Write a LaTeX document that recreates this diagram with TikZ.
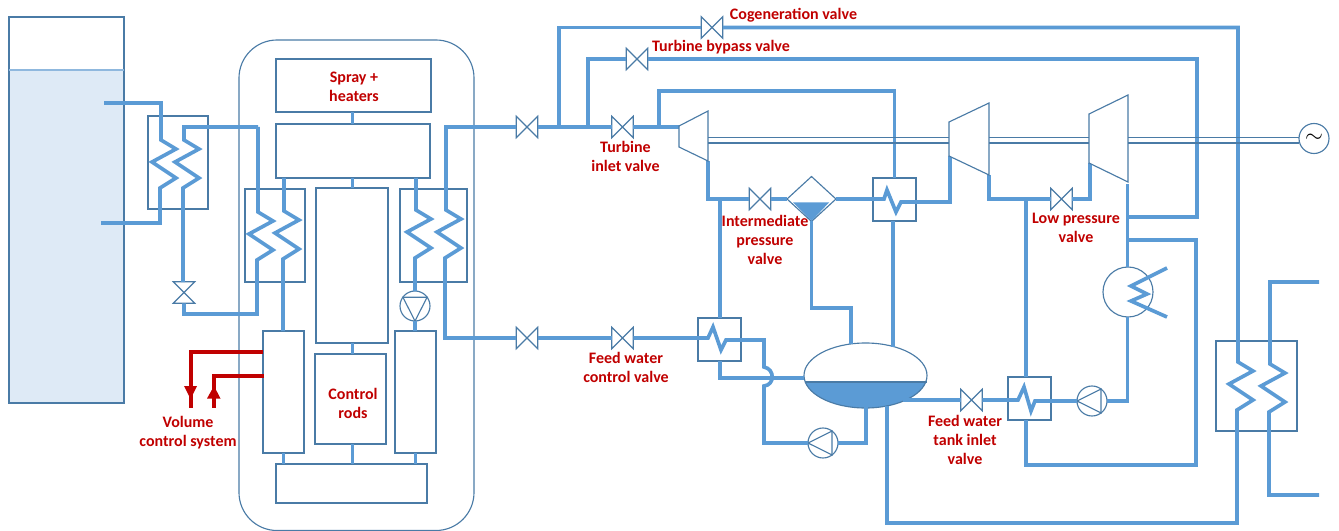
\documentclass[tikz,border=0pt]{standalone}
\usepackage{fontspec}
\setmainfont{Carlito}
\usetikzlibrary{fit,shapes.geometric}
\definecolor{pipeblue}{HTML}{5B9BD5}
\definecolor{eqblue}{HTML}{4A7BA6}
\definecolor{tankfill}{HTML}{DEEAF6}
\definecolor{levelblue}{HTML}{8FB8DE}
\definecolor{lbl}{HTML}{C00000}
\tikzset{
  pipe/.style={draw=pipeblue,line width=2.75pt,line join=miter},
  redpipe/.style={draw=lbl,line width=2.75pt,line join=miter},
  eq/.style={draw=eqblue,line width=0.85pt},
  eqbox/.style={eq,rectangle,inner sep=0pt,outer sep=0pt},
  valvenode/.style={rectangle,inner sep=0pt,outer sep=0pt,minimum width=16.2pt,minimum height=16.2pt},
  pumpnode/.style={eq,circle,inner sep=0pt,outer sep=0pt,minimum size=22.5pt},
  txt/.style={text=lbl,font=\fontsize{12}{14.25}\selectfont\bfseries,align=center,inner sep=0pt},
}
\newcommand{\hvalve}[3]{\node[valvenode] (#1) at (#2,#3) {};
  \draw[eq] (#1.north west) -- (#1.south east) -- (#1.north east) -- (#1.south west) -- cycle;}
\newcommand{\vvalve}[3]{\node[valvenode] (#1) at (#2,#3) {};
  \draw[eq] (#1.north west) -- (#1.north east) -- (#1.south west) -- (#1.south east) -- cycle;}
\newcommand{\eqrect}[5]{\node[eqbox,fit={(#2,#3)(#4,#5)}] (#1) {};}
\def\coil{-- ++(15,9) -- ++(-24,13) -- ++(24,16) -- ++(-16,10)}
\begin{document}
\begin{tikzpicture}[x=0.75pt,y=-0.75pt]
\useasboundingbox (0,0) rectangle (1339,531);

% --- tank
\fill[tankfill] (9,70) rectangle (124,403);
\eqrect{tank}{9}{17}{124}{403}
\coordinate (lvlL) at (9,70);
\coordinate (lvlR) at (124,70);
\draw[draw=levelblue,line width=1pt] (lvlL) -- (lvlR);

% --- containment vessel and internals
\node[eqbox,rounded corners=28.5pt,fit={(239,40)(474,530.5)}] (vessel) {};
\eqrect{spray}{276}{59}{431}{112}
\eqrect{upper}{276}{124}{430}{178}
\eqrect{core}{316}{188}{388}{343}
\eqrect{rods}{315}{354}{386}{444}
\eqrect{lower}{276}{464}{427}{503}
\eqrect{lcol}{263}{331}{304}{453}
\eqrect{rcol}{395}{331}{436}{453}

% --- heat exchanger boxes and heaters
\eqrect{hxa}{148}{116}{208}{209}
\eqrect{hxb}{245}{189}{305}{282}
\eqrect{hxc}{400}{189}{467}{282}
\eqrect{hxd}{1216}{341}{1297}{431}
\eqrect{fwa}{698}{318}{741}{361}
\eqrect{fwb}{873}{178}{916}{221}
\eqrect{fwc}{1008}{377}{1051}{420}

% --- valves
\vvalve{vhx}{184}{292.5}
\hvalve{vmain}{527}{127}
\hvalve{vfeed}{527}{338}
\hvalve{vinlet}{622.5}{127}
\hvalve{vfc}{622.5}{338}
\hvalve{vcog}{712}{27.5}
\hvalve{vby}{637}{59}
\hvalve{vip}{760}{199}
\hvalve{vlp}{1061.5}{199}
\hvalve{vtank}{971.5}{400}

% --- pumps, condenser, generator
\node[pumpnode] (pumpa) at (415,306) {};
\draw[eq] (pumpa.144) -- (pumpa.36) -- (pumpa.270) -- cycle;
\node[pumpnode] (pumpb) at (823,443) {};
\draw[eq] (pumpb.180) -- (pumpb.53) -- (pumpb.-53) -- cycle;
\node[pumpnode] (pumpc) at (1092,401) {};
\draw[eq] (pumpc.180) -- (pumpc.53) -- (pumpc.-53) -- cycle;
\node[eq,circle,inner sep=0pt,outer sep=0pt,minimum size=37.5pt] (cond) at (1128,292) {};

% --- separator
\node[eq,diamond,aspect=1.08,inner sep=0pt,outer sep=0pt,minimum width=36.7pt,minimum height=33.7pt] (sep) at (811.5,199) {};
\fill[pipeblue] (793,202.5) -- (829,202.5) -- (811.5,221) -- cycle;

% --- drum
\fill[white] (865.5,375.5) ellipse [x radius=61.5,y radius=32.5];
\begin{scope}
  \clip (800,382) rectangle (930,412);
  \fill[pipeblue] (865.5,375.5) ellipse [x radius=61.5,y radius=32.5];
\end{scope}
\node[eq,ellipse,inner sep=0pt,outer sep=0pt,minimum width=92.25pt,minimum height=48.75pt] (drum) at (865.5,375.5) {};
\coordinate (lineL) at (804.5,382);
\coordinate (lineR) at (926.5,382);
\draw[eq] (lineL) -- (lineR);

% --- turbines
\coordinate (taa) at (679,126);
\coordinate (tab) at (708,111);
\coordinate (tac) at (708,161);
\coordinate (tad) at (679,147);
\coordinate (tba) at (949,122);
\coordinate (tbb) at (989,103);
\coordinate (tbc) at (989,175);
\coordinate (tbd) at (949,156);
\coordinate (tca) at (1089,114);
\coordinate (tcb) at (1128,95);
\coordinate (tcc) at (1128,182);
\coordinate (tcd) at (1089,163);

% --- named junctions
\coordinate (stem) at (352.5,0);
\coordinate (sl) at (284,0);
\coordinate (sr) at (416,0);
\coordinate (jreturn) at (258,127);
\coordinate (jcog) at (559,127);
\coordinate (jby) at (588,127);
\coordinate (jre) at (659,127);
\coordinate (jip) at (720,199);
\coordinate (jlp) at (1026,199);
\coordinate (tcout) at (1127.5,184);
\coordinate (jcon) at (1127.5,217);
\coordinate (jcool) at (1127.5,240);
\coordinate (tankhot) at (104,103);
\coordinate (tankcold) at (101,223);
\coordinate (drumA) at (851,344);
\coordinate (drumB) at (893,346.5);
\coordinate (drumC) at (903,400);
\coordinate (drumD) at (866,407);
\coordinate (drumE) at (887,406);
\coordinate (drumF) at (804.3,378);
\coordinate (fwcN) at (1026,377);
\coordinate (fwcS) at (1026,420);
\coordinate (fwaN) at (720,318);
\coordinate (fwaS) at (720,361);
\coordinate (fwbN) at (894.5,178);
\coordinate (ccA) at (1167,268);
\coordinate (ccB) at (1167,317);
\coordinate (sea) at (1319,282);
\coordinate (seb) at (1319,495);

% --- pipes
\draw[pipe] (spray.south -| stem) -- (upper.north -| stem);
\draw[pipe] (upper.south -| stem) -- (core.north -| stem);
\draw[pipe] (core.south -| stem) -- (rods.north -| stem);
\draw[pipe] (rods.south -| stem) -- (lower.north -| stem);
\draw[pipe] (lcol.south) -- (lower.north -| lcol.south);
\draw[pipe] (rcol.south) -- (lower.north -| rcol.south);

\draw[pipe] (tankhot) -- (161,103) -- (161,140) \coil -- (160,223) -- (tankcold);
\draw[pipe] (jreturn) -- (184,127) -- (184,140) \coil -- (183,188) -- (183,282);
\draw[pipe] (jreturn) -- (258,212) \coil -- (257,314) -- (184,314) -- (vhx.south);
\draw[pipe] (upper.south -| sl) -- (284,211) \coil -- (283,259) -- (283,331);
\draw[pipe] (upper.south -| sr) -- (416,210) \coil -- (415,258) -- (pumpa.north);
\draw[pipe] (pumpa.south) -- (rcol.north -| pumpa.south);
\draw[pipe] (vmain.west) -- (446,127) -- (446,210) \coil -- (445,338) -- (vfeed.west);
\draw[pipe] (vmain.east) -- (vinlet.west);
\draw[pipe] (vinlet.east) -- (taa |- vinlet.east);
\draw[pipe] (jcog) -- (559,27.5) -- (vcog.west);
\draw[pipe] (vcog.east) -- (1238,27.5) -- (1238,362) \coil -- (1237,523) -- (887,523) -- (drumE);
\draw[pipe] (jby) -- (588,59) -- (vby.west);
\draw[pipe] (vby.east) -- (1197,59) -- (1197,217) -- (jcon);
\draw[pipe] (jre) -- (659,91) -- (894.5,91) -- (fwbN);
\draw[pipe] (tac) -- (708,199) -- (vip.west);
\draw[pipe] (vip.east) -- (sep.west);
\draw[pipe] (sep.east) -- (884,199) -- (887,190) -- (896,212) -- (901,202) -- (950,202) -- (950,156);
\draw[pipe] (jip) -- (fwaN);
\draw[pipe] (sep.south) -- (811.5,308) -- (851,308) -- (drumA);
\draw[pipe] (fwb.south -| drumB) -- (drumB);
\draw[pipe] (tbc) -- (989,199) -- (vlp.west);
\draw[pipe] (vlp.east) -- (1090,199) -- (1090,163);
\draw[pipe] (jlp) -- (fwcN);
\draw[pipe] (tcout) -- (jcon);
\draw[pipe] (jcon) -- (cond.north -| jcon);
\draw[pipe] (jcool) -- (1196,240) -- (1196,465) -- (1026,465) -- (fwcS);
\draw[pipe] (ccA) -- (1131,286) -- (1147,294) -- (1131,301) -- (ccB);
\draw[pipe] (cond.south -| jcon) -- (1127.5,401) -- (pumpc.east);
\draw[pipe] (pumpc.west) -- (1035,401) -- (1031,411) -- (1024,387) -- (1018,400) -- (vtank.east);
\draw[pipe] (vtank.west) -- (drumC);
\draw[pipe] (vfc.east) -- (708,338) -- (713,327) -- (721,350) -- (726,340) -- (764,340) -- (764,367)
  .. controls (775,369) and (775,385) .. (764,386) -- (764,443) -- (pumpb.west);
\draw[pipe] (pumpb.east) -- (866,443) -- (drumD);
\draw[pipe] (fwaS) -- (720,378) -- (drumF);
\draw[pipe] (vfeed.east) -- (vfc.west);
\draw[pipe] (sea) -- (1270,282) -- (1270,364) \coil -- (1269,495) -- (seb);

% --- turbine bodies and shafts, over the pipes
\draw[eq,fill=white] (taa) -- (tab) -- (tac) -- (tad) -- cycle;
\draw[eq,fill=white] (tba) -- (tbb) -- (tbc) -- (tbd) -- cycle;
\draw[eq,fill=white] (tca) -- (tcb) -- (tcc) -- (tcd) -- cycle;
\node[pumpnode,fill=white] (gen) at (1314,138.5) {\fontsize{18}{18}\selectfont$\sim$};
\coordinate (yup) at (0,137.8);
\coordinate (ylo) at (0,143);
\draw[eq] (tab |- yup) -- (tba |- yup);
\draw[eq] (tab |- ylo) -- (tba |- ylo);
\draw[eq] (tbb |- yup) -- (tca |- yup);
\draw[eq] (tbb |- ylo) -- (tca |- ylo);
\draw[eq] (tcb |- yup) -- (gen.west |- yup);
\draw[eq] (tcb |- ylo) -- (gen.west |- ylo);

% --- volume control lines
\coordinate (vcOut) at (191,408);
\coordinate (vcIn) at (214,408);
\coordinate (lcolA) at (263,352);
\coordinate (lcolB) at (264,376);
\draw[redpipe] (lcolA) -- (191,352) -- (vcOut);
\draw[redpipe] (lcolB) -- (214,376) -- (vcIn);
\fill[lbl] (184,386) -- (197,386) -- (190.5,399) -- cycle;
\fill[lbl] (207,398.5) -- (220.5,398.5) -- (214,386) -- cycle;

% --- labels
\node[txt] (tspray) at (354,86.5) {Spray +\\heaters};
\node[txt] (trods) at (353,403.5) {Control\\rods};
\node[txt] (tvcs) at (188,432.5) {Volume\\control system};
\node[txt] (tcog) at (793.5,15) {Cogeneration valve};
\node[txt] (tby) at (721,47) {Turbine bypass valve};
\node[txt] (tinlet) at (625.5,156.5) {Turbine\\inlet valve};
\node[txt] (tip) at (765,239.5) {Intermediate\\pressure\\valve};
\node[txt] (tfc) at (626,367.5) {Feed water\\control valve};
\node[txt] (tlp) at (1076,227.5) {Low pressure\\valve};
\node[txt] (ttank) at (965,440) {Feed water\\tank inlet\\valve};
\end{tikzpicture}
\end{document}
